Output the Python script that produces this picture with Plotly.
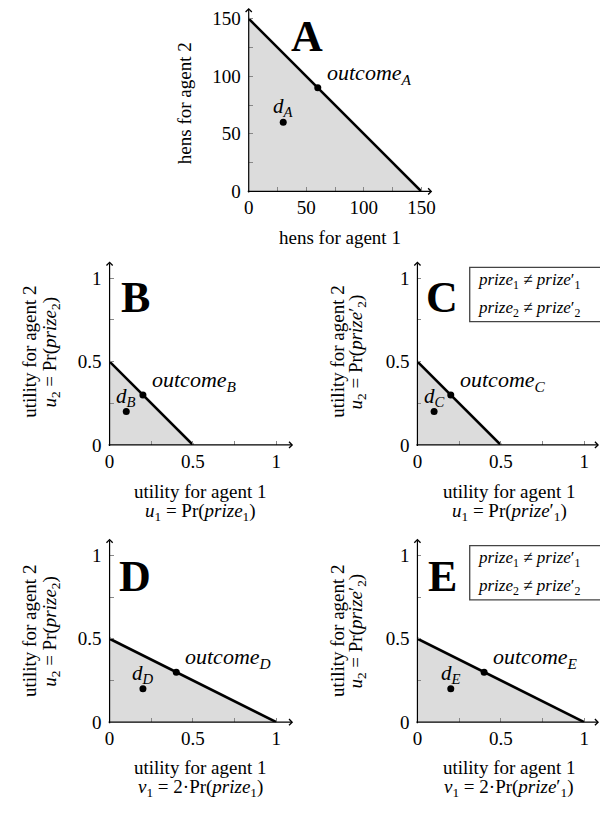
import plotly.graph_objects as go

# ---------------- data ----------------
panel_names = ["A", "B", "C", "D", "E"]
frontier_x_max = [150, 0.5, 0.5, 1.0, 1.0]
frontier_y_max = [150, 0.5, 0.5, 0.5, 0.5]
d_x = [30, 0.1, 0.1, 0.2, 0.2]
d_y = [60, 0.2, 0.2, 0.2, 0.2]
outcome_x = [60, 0.2, 0.2, 0.4, 0.4]
outcome_y = [90, 0.3, 0.3, 0.3, 0.3]

tick_vals_A = [0, 50, 100, 150]
tick_text_A = ["0", "50", "100", "150"]
minor_step_A = 25
tick_vals_U = [0, 0.5, 1]
tick_text_U = ["0", "0.5", "1"]
minor_step_U = 0.25

x_title_1 = ["hens for agent 1", "utility for agent 1", "utility for agent 1",
             "utility for agent 1", "utility for agent 1"]
x_title_2 = ["",
             "<i>u</i><sub>1</sub> = Pr(<i>prize</i><sub>1</sub>)",
             "<i>u</i><sub>1</sub> = Pr(<i>prize</i>′<sub>1</sub>)",
             "<i>v</i><sub>1</sub> = 2·Pr(<i>prize</i><sub>1</sub>)",
             "<i>v</i><sub>1</sub> = 2·Pr(<i>prize</i>′<sub>1</sub>)"]
y_title_1 = ["hens for agent 2", "utility for agent 2", "utility for agent 2",
             "utility for agent 2", "utility for agent 2"]
y_title_2 = ["",
             "<i>u</i><sub>2</sub> = Pr(<i>prize</i><sub>2</sub>)",
             "<i>u</i><sub>2</sub> = Pr(<i>prize</i>′<sub>2</sub>)",
             "<i>u</i><sub>2</sub> = Pr(<i>prize</i><sub>2</sub>)",
             "<i>u</i><sub>2</sub> = Pr(<i>prize</i>′<sub>2</sub>)"]
has_note = [False, False, True, False, True]
note_1 = "<i>prize</i><sub>1</sub> ≠ <i>prize</i>′<sub>1</sub>"
note_2 = "<i>prize</i><sub>2</sub> ≠ <i>prize</i>′<sub>2</sub>"

# ---------------- layout (pixels) ----------------
W, H = 600, 817
origin_px = [(247, 194), (106, 451), (418, 451), (106, 732), (418, 732)]
px_per_unit = [175 / 150, 169, 169, 169, 169]
axis_len_px = 186

FONT = "Liberation Serif"
FS = 19


def fx(p):
    return p / W


def fy(p):
    return 1 - p / H


fig = go.Figure()
layout = dict(
    width=W, height=H, margin=dict(l=0, r=0, t=0, b=0),
    paper_bgcolor="white", plot_bgcolor="white", showlegend=False,
    font=dict(family=FONT, size=FS, color="black"),
)
annotations = []
shapes = []

for i, name in enumerate(panel_names):
    k = i + 1
    xa = "xaxis" if k == 1 else f"xaxis{k}"
    ya = "yaxis" if k == 1 else f"yaxis{k}"
    xr = "x" if k == 1 else f"x{k}"
    yr = "y" if k == 1 else f"y{k}"
    ox, oy = origin_px[i]
    s = px_per_unit[i]
    x_end_px = min(ox + axis_len_px, W)
    xmax = (x_end_px - ox) / s
    ymax = axis_len_px / s

    tv = tick_vals_A if i == 0 else tick_vals_U
    tt = tick_text_A if i == 0 else tick_text_U
    mstep = minor_step_A if i == 0 else minor_step_U
    common = dict(showgrid=False, zeroline=False, showline=False,
                  ticks="inside", ticklen=4, tickcolor="#888", tickwidth=1,
                  tickvals=tv, ticktext=tt,
                  minor=dict(dtick=mstep, tick0=0, ticks="inside", ticklen=4,
                             tickcolor="#888", tickwidth=1, showgrid=False),
                  tickfont=dict(family=FONT, size=FS, color="black"),
                  fixedrange=True)
    layout[xa] = dict(domain=[fx(ox), fx(x_end_px)], range=[0, xmax],
                      anchor=yr, ticklabelstandoff=3, **common)
    layout[ya] = dict(domain=[fy(oy), fy(oy - axis_len_px)], range=[0, ymax],
                      anchor=xr, ticklabelstandoff=7, **common)

    fxm, fym = frontier_x_max[i], frontier_y_max[i]
    # feasible region
    fig.add_trace(go.Scatter(x=[0, fxm, 0, 0], y=[0, 0, fym, 0], fill="toself",
                             fillcolor="#dcdcdc", mode="none",
                             xaxis=xr, yaxis=yr, hoverinfo="skip"))
    # frontier
    fig.add_trace(go.Scatter(x=[0, fxm], y=[fym, 0], mode="lines",
                             line=dict(color="black", width=2.6),
                             xaxis=xr, yaxis=yr, hoverinfo="skip"))
    # disagreement point and outcome
    fig.add_trace(go.Scatter(x=[d_x[i], outcome_x[i]], y=[d_y[i], outcome_y[i]],
                             mode="markers",
                             marker=dict(color="black", size=7),
                             xaxis=xr, yaxis=yr, hoverinfo="skip"))
    annotations.append(dict(x=d_x[i], y=d_y[i], xref=xr, yref=yr,
                            text=f"<i>d</i><sub><i>{name}</i></sub>",
                            showarrow=False, xanchor="center", yanchor="middle",
                            yshift=15, font=dict(family=FONT, size=21)))
    annotations.append(dict(x=outcome_x[i], y=outcome_y[i], xref=xr, yref=yr,
                            text=f"<i>outcome</i><sub><i>{name}</i></sub>",
                            showarrow=False, xanchor="left", yanchor="middle",
                            xshift=7, yshift=14, font=dict(family=FONT, size=22)))

    # axis lines with arrow tips
    annotations.append(dict(x=fx(ox + axis_len_px), y=fy(oy), xref="paper", yref="paper",
                            ax=-(axis_len_px), ay=0, text="", showarrow=True,
                            arrowhead=4, arrowsize=1, arrowwidth=1.2, arrowcolor="black"))
    annotations.append(dict(x=fx(ox), y=fy(oy - axis_len_px), xref="paper", yref="paper",
                            ax=0, ay=axis_len_px, text="", showarrow=True,
                            arrowhead=4, arrowsize=1, arrowwidth=1.2, arrowcolor="black"))

# panel letters
letter_pos = [(306, 37), (132, 302), (443, 302), (132, 584), (443, 584)]
for name, (px, py) in zip(panel_names, letter_pos):
    annotations.append(dict(x=fx(px), y=fy(py), xref="paper", yref="paper",
                            text=f"<b>{name}</b>", showarrow=False,
                            xanchor="center", yanchor="middle",
                            font=dict(family=FONT, size=44, color="black")))

# axis titles
xt_pos = [(340, 241, None), (198, 498, 519), (511, 498, 519), (198, 778, 799), (511, 778, 799)]
yt_pos = [(182, 105), (25, 357), (337, 357), (25, 640), (337, 640)]
yt_x2 = [None, 47, 357, 47, 357]
for i in range(5):
    cx, y1, y2 = xt_pos[i]
    annotations.append(dict(x=fx(cx), y=fy(y1), xref="paper", yref="paper",
                            text=x_title_1[i], showarrow=False,
                            xanchor="center", yanchor="middle",
                            font=dict(family=FONT, size=FS)))
    if x_title_2[i]:
        annotations.append(dict(x=fx(cx), y=fy(y2), xref="paper", yref="paper",
                                text=x_title_2[i], showarrow=False,
                                xanchor="center", yanchor="middle",
                                font=dict(family=FONT, size=FS)))
    lx, cy = yt_pos[i]
    annotations.append(dict(x=fx(lx), y=fy(cy), xref="paper", yref="paper",
                            text=y_title_1[i], showarrow=False, textangle=-90,
                            xanchor="center", yanchor="middle",
                            font=dict(family=FONT, size=FS)))
    if y_title_2[i]:
        annotations.append(dict(x=fx(yt_x2[i]), y=fy(cy), xref="paper", yref="paper",
                                text=y_title_2[i], showarrow=False, textangle=-90,
                                xanchor="center", yanchor="middle",
                                font=dict(family=FONT, size=FS)))

# note boxes in C and E
note_top = [None, None, 271, None, 553]
for i in range(5):
    if not has_note[i]:
        continue
    top = note_top[i]
    shapes.append(dict(type="rect", xref="paper", yref="paper",
                       x0=fx(471), x1=fx(640), y0=fy(top), y1=fy(top + 55),
                       line=dict(color="#444", width=1.3), fillcolor="white"))
    annotations.append(dict(x=fx(477), y=fy(top + 14), xref="paper", yref="paper",
                            text=note_1, showarrow=False, xanchor="left", yanchor="middle",
                            font=dict(family=FONT, size=17)))
    annotations.append(dict(x=fx(477), y=fy(top + 42), xref="paper", yref="paper",
                            text=note_2, showarrow=False, xanchor="left", yanchor="middle",
                            font=dict(family=FONT, size=17)))

layout["annotations"] = annotations
layout["shapes"] = shapes
fig.update_layout(**layout)

post = """
var s=document.createElement('style');
s.innerHTML='html,body{margin:0;padding:0;overflow:hidden;}';
document.head.appendChild(s);
"""
fig.write_html("out.html", config={"displayModeBar": False}, post_script=post)
